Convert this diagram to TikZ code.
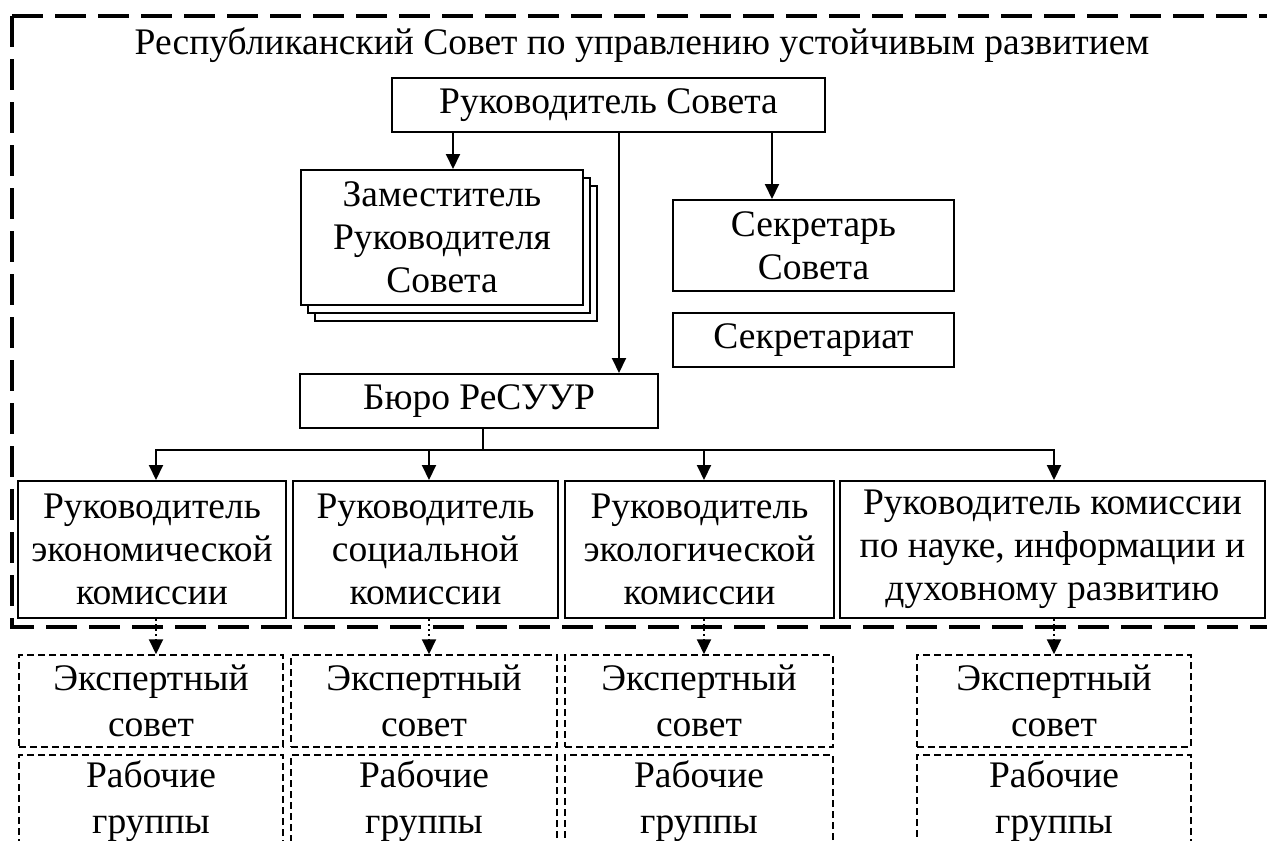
\documentclass[tikz,border=0pt]{standalone}
\usepackage{fontspec}
\setmainfont{Liberation Serif}
\usetikzlibrary{arrows.meta}
\begin{document}
\begin{tikzpicture}[x=1pt,y=-1pt,
  box/.style={draw, line width=2pt, fill=white, inner sep=0pt, align=center, font=\fontsize{37.5}{43}\selectfont},
  ebox/.style={draw, line width=1.5pt, dash pattern=on 7pt off 4pt, inner sep=0pt, align=center, font=\fontsize{37.5}{46}\selectfont},
  arr/.style={line width=2pt, -{Triangle[length=15pt,width=14pt]}},
  darr/.style={line width=2pt, dash pattern=on 2pt off 3pt, -{Triangle[length=15pt,width=14pt]}},
  outerline/.style={line width=4pt, dash pattern=on 31pt off 12pt}]
\useasboundingbox (0,0) rectangle (1267,841);
\clip (0,0) rectangle (1267,841);
% outer dashed frame
\draw[outerline] (12,16) -- (1300,16);
\draw[outerline] (12,16) -- (12,627) -- (1300,627);
% title
\node[font=\fontsize{37.5}{43}\selectfont, anchor=base, inner sep=0pt] (title) at (642,54) {Республиканский Совет по управлению устойчивым развитием};
% top part
\node[box, minimum width=433pt, minimum height=54pt] (ruk) at (608.5,105) {Руководитель Совета};
\node[box, minimum width=282pt, minimum height=135pt] (zam3) at (456,253.5) {};
\node[box, minimum width=282pt, minimum height=135pt] (zam2) at (449,245.5) {};
\node[box, minimum width=282pt, minimum height=135pt] (zam) at (442,237.5) {Заместитель\\Руководителя\\Совета};
\node[box, minimum width=281pt, minimum height=91pt] (sec) at (813.5,245.5) {Секретарь\\Совета};
\node[box, minimum width=281pt, minimum height=54pt] (secat) at (813.5,340) {Секретариат};
\node[box, minimum width=358pt, minimum height=54pt] (buro) at (479,401) {Бюро РеСУУР};
% commissions
\node[box, minimum width=268pt, minimum height=137pt] (c1) at (152,549.5) {Руководитель\\экономической\\комиссии};
\node[box, minimum width=265pt, minimum height=137pt] (c2) at (425.5,549.5) {Руководитель\\социальной\\комиссии};
\node[box, minimum width=269pt, minimum height=137pt] (c3) at (699.5,549.5) {Руководитель\\экологической\\комиссии};
\node[box, minimum width=425pt, minimum height=137pt] (c4) at (1052.5,549.5) {Руководитель комиссии\\по науке, информации и\\духовному развитию};
% expert councils
\node[ebox, minimum width=264pt, minimum height=92pt] (e1) at (151,701) {Экспертный\\совет};
\node[ebox, minimum width=266pt, minimum height=92pt] (e2) at (424,701) {Экспертный\\совет};
\node[ebox, minimum width=268pt, minimum height=92pt] (e3) at (699,701) {Экспертный\\совет};
\node[ebox, minimum width=274pt, minimum height=92pt] (e4) at (1054,701) {Экспертный\\совет};
% working groups
\node[ebox, minimum width=264pt, minimum height=92pt] (w1) at (151,801) {Рабочие\\группы};
\node[ebox, minimum width=266pt, minimum height=92pt] (w2) at (424,801) {Рабочие\\группы};
\node[ebox, minimum width=268pt, minimum height=92pt] (w3) at (699,801) {Рабочие\\группы};
\node[ebox, minimum width=274pt, minimum height=92pt] (w4) at (1054,801) {Рабочие\\группы};
% connectors
\coordinate (a1) at (453,0);
\coordinate (a2) at (619,0);
\coordinate (a3) at (772,0);
\draw[arr] (ruk.south -| a1) -- (zam.north -| a1);
\draw[arr] (ruk.south -| a2) -- (buro.north -| a2);
\draw[arr] (ruk.south -| a3) -- (sec.north -| a3);
\coordinate (bus) at (483,450);
\coordinate (k1) at (156,0);
\coordinate (k2) at (429,0);
\coordinate (k3) at (704,0);
\coordinate (k4) at (1054,0);
\draw[line width=2pt] (buro.south -| bus) -- (bus);
\draw[line width=2pt, line cap=rect] (bus -| k1) -- (bus -| k4);
\foreach \i in {1,2,3,4}{
  \draw[arr] (bus -| k\i) -- (c\i.north -| k\i);
  \draw[darr] (c\i.south -| k\i) -- (e\i.north -| k\i);
}
\end{tikzpicture}
\end{document}
